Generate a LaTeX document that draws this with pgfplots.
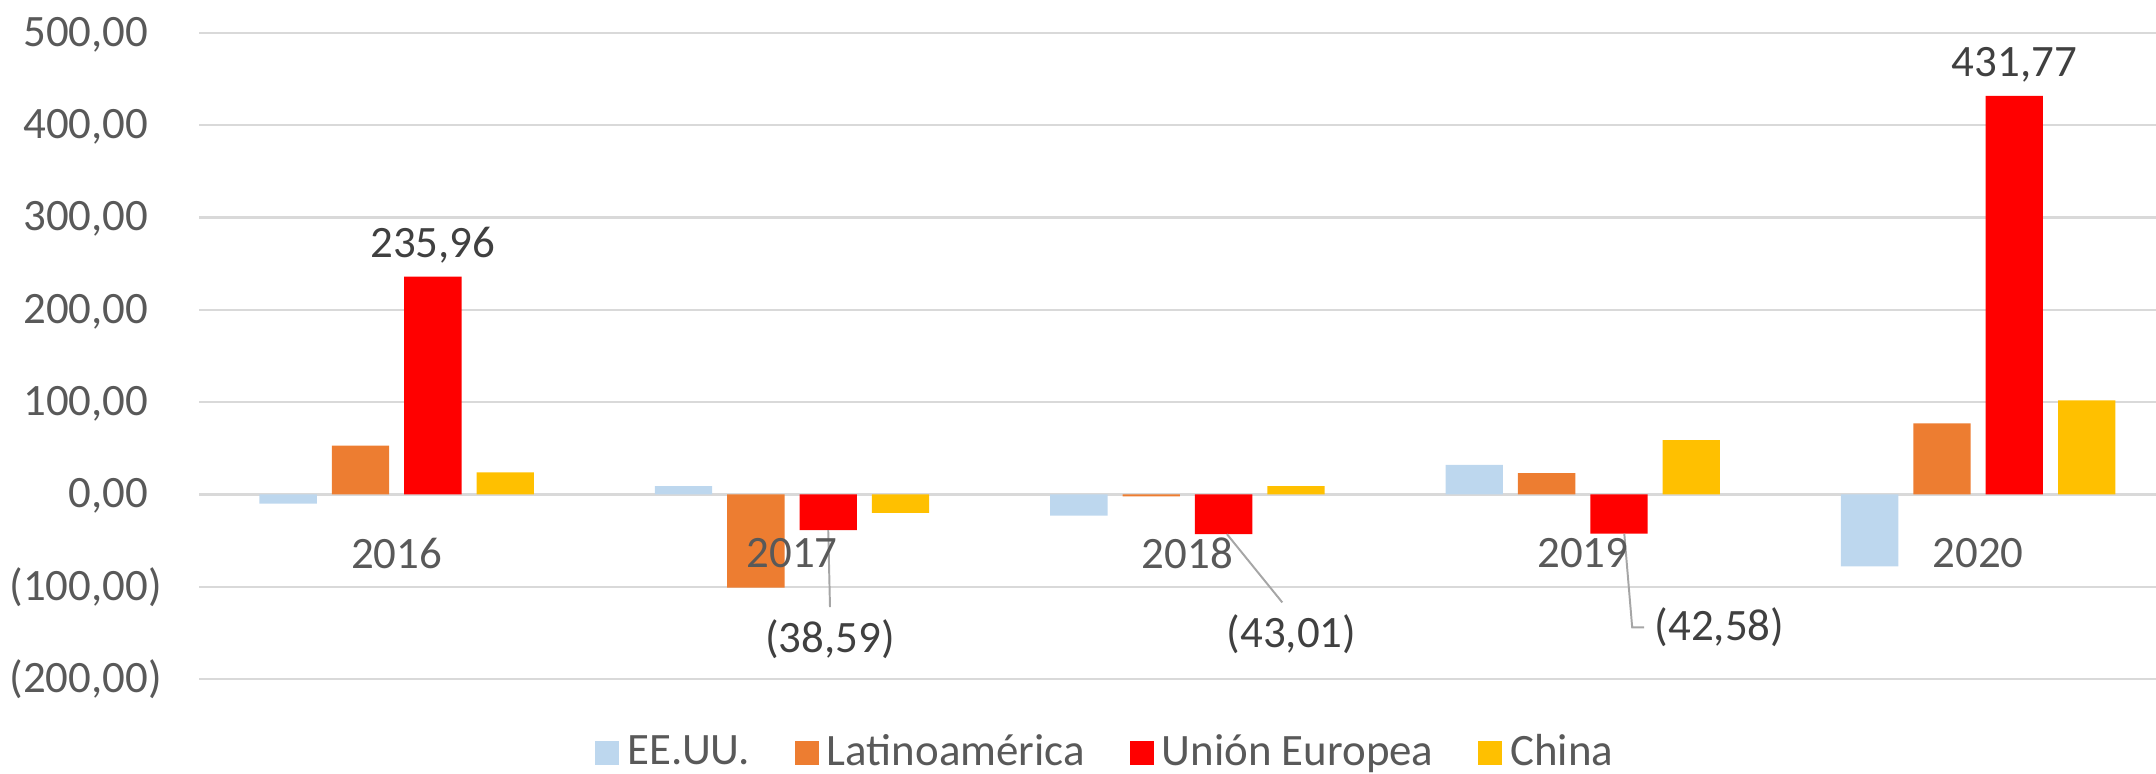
\documentclass[border=0pt]{standalone}
\usepackage{pgfplots}
\pgfplotsset{compat=1.18}
\usepackage{fontspec}
\setmainfont{Carlito}

\definecolor{usblue}{HTML}{BDD7EE}
\definecolor{latorange}{HTML}{ED7D31}
\definecolor{uered}{HTML}{FF0000}
\definecolor{chinagold}{HTML}{FFC000}
\definecolor{gridgray}{HTML}{D9D9D9}
\definecolor{labelgray}{HTML}{595959}
\definecolor{datagray}{HTML}{404040}
\definecolor{leadergray}{HTML}{A6A6A6}

\newcommand{\lbl}{\fontsize{11.5}{14}\selectfont}

% grid below the bars, tick labels above them
\pgfplotsset{
  layers/gridbelow/.define layer set={
    axis background,axis grid,pre main,main,axis ticks,axis lines,
    axis tick labels,axis descriptions,axis foreground
  }{
    grid style={/pgfplots/on layer=axis grid},
    tick style={/pgfplots/on layer=axis ticks},
    axis line style={/pgfplots/on layer=axis lines},
    label style={/pgfplots/on layer=axis descriptions},
    legend style={/pgfplots/on layer=axis descriptions},
    ticklabel style={/pgfplots/on layer=axis tick labels},
  },
  sqbar/.style={
    ybar, draw=none, fill=#1, bar width=0.145,
    legend image code/.code={\fill[#1] (0cm,-0.11cm) rectangle (0.22cm,0.11cm);}
  }
}

\begin{document}
\begin{tikzpicture}
\begin{axis}[
    set layers=gridbelow,
    scale only axis,
    width=17.613cm,
    height=5.814cm,
    xmin=-0.5, xmax=4.45,
    ymin=-200, ymax=500,
    xtick={0,1,2,3,4},
    xticklabels={2016,2017,2018,2019,2020},
    ytick={-200,-100,0,100,200,300,400,500},
    yticklabels={{(200,00)},{(100,00)},{0,00\phantom{)}},{100,00\phantom{)}},{200,00\phantom{)}},{300,00\phantom{)}},{400,00\phantom{)}},{500,00\phantom{)}}},
    ymajorgrids=true,
    grid style={draw=gridgray, line width=0.6pt},
    axis line style={draw=none},
    major tick length=0pt,
    ticklabel style={font=\lbl, text=labelgray},
    xticklabel style={anchor=center, yshift=1.134cm},
    yticklabel style={xshift=-0.21cm},
    clip=false,
    legend style={at={(0.4645,-0.1146)}, anchor=center, draw=none, fill=none,
        legend columns=4, font=\lbl, text=labelgray,
        /tikz/every even column/.append style={column sep=0.33cm}},
]

\addplot[sqbar=usblue, bar shift=-0.2745] coordinates {
    (0,-10) (1,9) (2,-23) (3,32) (4,-78)
};
\addplot[sqbar=latorange, bar shift=-0.0915] coordinates {
    (0,53) (1,-101) (2,-2) (3,23) (4,77)
};
\addplot[sqbar=uered, bar shift=0.0915] coordinates {
    (0,235.96) (1,-38.59) (2,-43.01) (3,-42.58) (4,431.77)
};
\addplot[sqbar=chinagold, bar shift=0.2745] coordinates {
    (0,24) (1,-20) (2,9) (3,59) (4,102)
};
\legend{EE.UU., Latinoamérica, Unión Europea, China}

% data labels of Unión Europea
\node[anchor=south, font=\lbl, text=datagray] at (axis cs:0.0915,235.96) {235,96};
\node[anchor=south, font=\lbl, text=datagray] at (axis cs:4.0915,431.77) {431,77};

\draw[leadergray, line width=0.5pt] (axis cs:1.0915,-38.59) -- (axis cs:1.096,-122);
\node[font=\lbl, text=datagray] at (axis cs:1.096,-157) {(38,59)};

\draw[leadergray, line width=0.5pt] (axis cs:2.10,-43.01) -- (axis cs:2.24,-117);
\node[font=\lbl, text=datagray] at (axis cs:2.263,-151) {(43,01)};

\draw[leadergray, line width=0.5pt] (axis cs:3.105,-42.58) -- (axis cs:3.125,-144) -- (axis cs:3.155,-144);
\node[anchor=west, inner sep=2pt, font=\lbl, text=datagray] at (axis cs:3.16,-144) {(42,58)};
\end{axis}
\pgfresetboundingbox
\path (-1.791cm,-0.846cm) rectangle (17.613cm,6.111cm);
\end{tikzpicture}
\end{document}
